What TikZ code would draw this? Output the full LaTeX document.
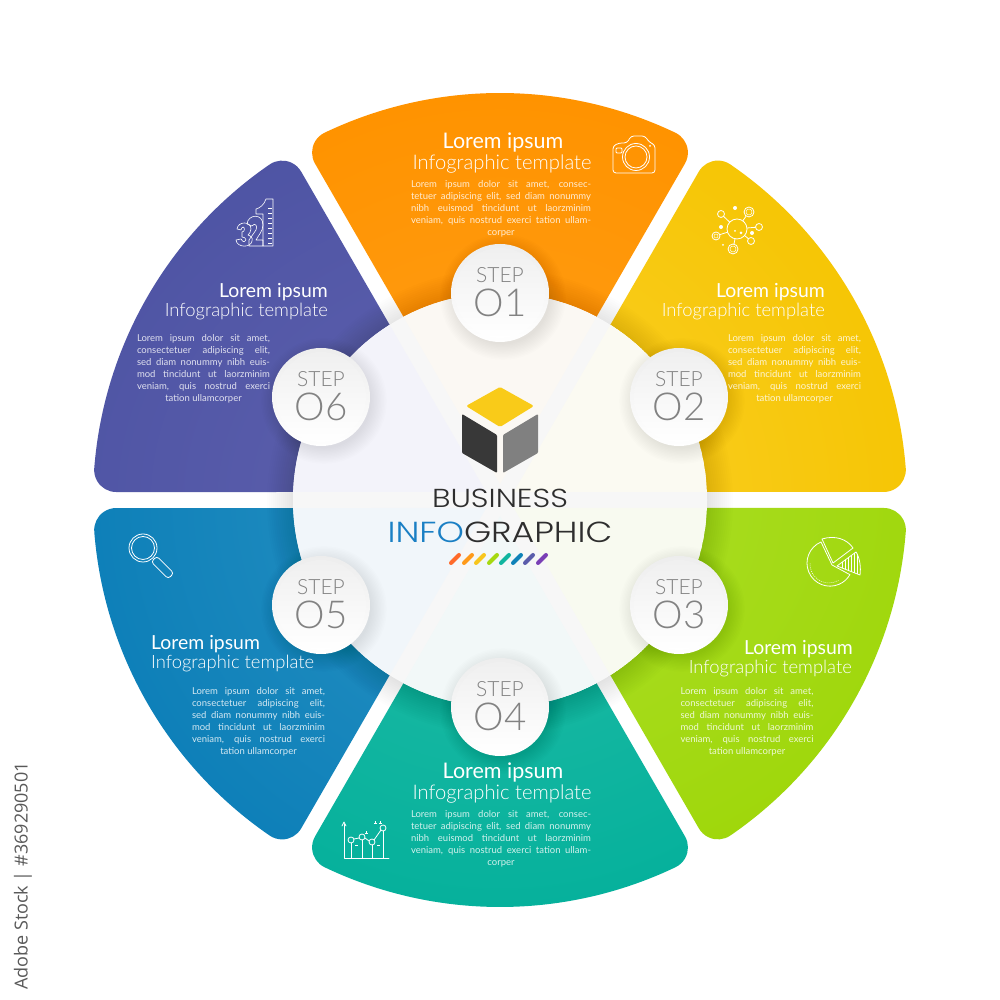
\documentclass[tikz,border=0pt]{standalone}
\usepackage{graphicx}
\usepackage{fontspec}
\setmainfont{Lato}
\newfontfamily\latolight{Lato Light}
\newfontfamily\poplight{Poppins Light}
\newfontfamily\opensans{Open Sans}
\definecolor{or1}{HTML}{FF9F1A}\definecolor{or2}{HTML}{FF9300}
\definecolor{ye1}{HTML}{FBD02A}\definecolor{ye2}{HTML}{F5C400}
\definecolor{gr1}{HTML}{ADDF2C}\definecolor{gr2}{HTML}{9FD70A}
\definecolor{te1}{HTML}{24BCA6}\definecolor{te2}{HTML}{06B19C}
\definecolor{bl1}{HTML}{2A93C3}\definecolor{bl2}{HTML}{0A7DB7}
\definecolor{in1}{HTML}{6062AF}\definecolor{in2}{HTML}{4E54A4}
\definecolor{stepgray}{HTML}{828282}
\definecolor{ti1}{HTML}{FBF8F3}\definecolor{ti2}{HTML}{FBFAF2}
\definecolor{ti3}{HTML}{F8FAF0}\definecolor{ti4}{HTML}{F2F8F8}
\definecolor{ti5}{HTML}{F1F6FA}\definecolor{ti6}{HTML}{F3F3FA}
\def\wedgepath{(16,0) -- (336.4,185) arc[start angle=120,end angle=25.531,radius=22] arc[start angle=25.531,end angle=-25.531,radius=407] arc[start angle=-25.531,end angle=-120,radius=22] -- cycle}
\newcommand\sector[3]{\begin{scope}[shift={(500,500)},rotate=#1]\clip \wedgepath;\shade[inner color=#2,outer color=#3] (0,0) circle[radius=408];\end{scope}}
\newcommand\tint[2]{\begin{scope}[shift={(500,500)},rotate=#1]\fill[#2] \wedgepath;\end{scope}}
\newlength\jlw
\newcommand\jl[1]{\hbox to \jlw{#1}}
\newcommand\bodyblock[5]{\global\jlw=#4pt\relax\node[bodytext,anchor=north] (#1) at (#2,#3) {#5};}
\newcommand\stepbadge[4]{%
  \foreach \i in {1,...,12}{\fill[black,opacity=.008] (#2+3,#3+4) circle[radius=46+\i*1.4];}
  \shade[top color=black!7,bottom color=white] (#2,#3) circle[radius=49];
  \shade[top color=black!6,bottom color=white] (#2,#3) circle[radius=45];
  \node[steplabel] (#1s) at (#2,#3-10) {STEP};
  \node[stepnum] (#1n) at (#2,#3+24) {#4};}
\tikzset{
  px/.style={x=1pt,y=-1pt,shift={(0,-1000)}},
  ttl/.style={text=white,font=\fontsize{21.5}{22}\selectfont,inner sep=0pt},
  sub/.style={text=white,font=\latolight\fontsize{20.2}{22}\selectfont,inner sep=0pt},
  sidettl/.style={text=white,font=\fontsize{19.4}{22}\selectfont,inner sep=0pt},
  sidesub/.style={text=white,font=\latolight\fontsize{18.4}{22}\selectfont,inner sep=0pt},
  bodytext/.style={text=white,text opacity=.82,font=\fontsize{9.5}{12}\selectfont,align=center,inner sep=0pt},
  steplabel/.style={text=stepgray,font=\latolight\fontsize{21}{21}\selectfont,inner sep=0pt,anchor=base},
  stepnum/.style={text=stepgray,font=\latolight\fontsize{38.5}{41}\selectfont,inner sep=0pt,anchor=base},
  icon/.style={draw=white,line width=.8pt,line join=round,line cap=round},
}
\begin{document}
\begin{tikzpicture}[x=1pt,y=1pt]
\useasboundingbox (0,0) rectangle (1000,1000);
\fill[white] (0,0) rectangle (1000,1000);
\sector{90}{or1}{or2}
\sector{30}{ye1}{ye2}
\sector{-30}{gr1}{gr2}
\sector{-90}{te1}{te2}
\sector{-150}{bl1}{bl2}
\sector{150}{in1}{in2}
% central disc and its shadow
\foreach \i in {1,...,14}{\fill[black,opacity=.009] (500,498) circle[radius=205+\i*2];}
\begin{scope}
\clip (500,500) circle[radius=207];
\fill[white!97!black] (500,500) circle[radius=207];
\tint{90}{ti1}
\tint{30}{ti2}
\tint{-30}{ti3}
\tint{-90}{ti4}
\tint{-150}{ti5}
\tint{150}{ti6}
\end{scope}
\begin{scope}[px]
\stepbadge{a}{500}{293}{O1}
\stepbadge{b}{679}{397}{O2}
\stepbadge{c}{679}{605}{O3}
\stepbadge{d}{500}{707}{O4}
\stepbadge{e}{321}{605}{O5}
\stepbadge{f}{321}{397}{O6}
% cube
\fill[rounded corners=1.5pt,fill=ye2!40!ye1] (500,387)--(534,406)--(500,427)--(466,406)--cycle;
\fill[rounded corners=1pt,fill=black!78] (462,414)--(497,435)--(497,473)--(462,453)--cycle;
\fill[rounded corners=1pt,fill=black!50] (503,435)--(538,414)--(538,453)--(503,473)--cycle;
\node[inner sep=0pt,anchor=base,text=black!82,font=\poplight\fontsize{26}{26}\selectfont] (biz) at (500,508) {\scalebox{1.19}[1]{BUSINESS}};
\node[inner sep=0pt,anchor=base,text=black!82,font=\poplight\fontsize{29}{29}\selectfont] (info) at (500,543) {\scalebox{1.2}[1]{\textcolor[HTML]{1A7FC4}{INFO}GRAPHIC}};
\foreach \x/\c in {455/FF6A2A,468/FF9A1A,480/F8C61C,493/A6D911,505/10B59F,517/0F82B8,529/5A5CAB,542/7A3FB5}{
  \definecolor{dashc}{HTML}{\c}
  \draw[dashc,line width=4pt,line cap=round] (\x-4,563) -- (\x+4,555);}
% titles
\node[ttl,anchor=base] (t1) at (503,149) {Lorem ipsum};
\node[sub,anchor=base] (u1) at (502,170) {Infographic template};
\bodyblock{b1}{501}{180}{180}{\jl{Lorem ipsum dolor sit amet, consec-}\\\jl{tetuer adipiscing elit, sed diam nonummy}\\\jl{nibh euismod tincidunt ut laorzminim}\\\jl{veniam, quis nostrud exerci tation ullam-}\\corper}
\node[sidettl,anchor=base east] (t2) at (825,298) {Lorem ipsum};
\node[sidesub,anchor=base east] (u2) at (825,317) {Infographic template};
\bodyblock{b2}{794.5}{334}{133}{\jl{Lorem ipsum dolor sit amet,}\\\jl{consectetuer adipiscing elit,}\\\jl{sed diam nonummy nibh euis-}\\\jl{mod tincidunt ut laorzminim}\\\jl{veniam, quis nostrud exerci}\\tation ullamcorper}
\node[sidettl,anchor=base east] (t3) at (853,655) {Lorem ipsum};
\node[sidesub,anchor=base east] (u3) at (852,674) {Infographic template};
\bodyblock{b3}{747}{687}{133}{\jl{Lorem ipsum dolor sit amet,}\\\jl{consectetuer adipiscing elit,}\\\jl{sed diam nonummy nibh euis-}\\\jl{mod tincidunt ut laorzminim}\\\jl{veniam, quis nostrud exerci}\\tation ullamcorper}
\node[ttl,anchor=base] (t4) at (503,779) {Lorem ipsum};
\node[sub,anchor=base] (u4) at (502,800) {Infographic template};
\bodyblock{b4}{501}{810}{180}{\jl{Lorem ipsum dolor sit amet, consec-}\\\jl{tetuer adipiscing elit, sed diam nonummy}\\\jl{nibh euismod tincidunt ut laorzminim}\\\jl{veniam, quis nostrud exerci tation ullam-}\\corper}
\node[sidettl,anchor=base west] (t5) at (151,650) {Lorem ipsum};
\node[sidesub,anchor=base west] (u5) at (151,669) {Infographic template};
\bodyblock{b5}{258.5}{687}{133}{\jl{Lorem ipsum dolor sit amet,}\\\jl{consectetuer adipiscing elit,}\\\jl{sed diam nonummy nibh euis-}\\\jl{mod tincidunt ut laorzminim}\\\jl{veniam, quis nostrud exerci}\\tation ullamcorper}
\node[sidettl,anchor=base east] (t6) at (328,298) {Lorem ipsum};
\node[sidesub,anchor=base east] (u6) at (328,317) {Infographic template};
\bodyblock{b6}{203.5}{334}{133}{\jl{Lorem ipsum dolor sit amet,}\\\jl{consectetuer adipiscing elit,}\\\jl{sed diam nonummy nibh euis-}\\\jl{mod tincidunt ut laorzminim}\\\jl{veniam, quis nostrud exerci}\\tation ullamcorper}
% camera
\draw[icon,rounded corners=3pt] (613,146)--(619,143)--(627,143)--(631,136)--(645,136)--(649,142)--(655,145)--(655,173)--(613,173)--cycle;
\draw[icon] (636,157) circle[radius=13.5] circle[radius=11];
\draw[icon,rounded corners=1pt] (616,148) rectangle (622,153);
\fill[white] (650,146) circle[radius=1];
% molecule
\draw[icon] (737,229) circle[radius=10];
\foreach \x/\y/\r in {721/214/3.5,749/212/5,759/227/3.5,751/241/3.5,733/249/5,716/236/4}{
  \draw[icon] (\x,\y) circle[radius=\r];}
\draw[icon,line width=.5pt] (749,212) circle[radius=3] (733,249) circle[radius=3] (716,236) circle[radius=2];
\draw[icon] (729.7,222.2)--(723.6,216.4) (742.8,220.8)--(746.1,216.1) (747,228)--(755.5,227.3) (744.6,235.5)--(748.3,238.7) (735,238.8)--(734,244) (727.5,232.2)--(719.8,234.7);
\foreach \x/\y/\r in {735/208/2,721/227/2,752/233/2,723/245/1,735/231/1,741/233/1.5}{\fill[white] (\x,\y) circle[radius=\r];}
% pie
\draw[icon] (832,565)--(821,542) arc[start angle=247,end angle=30,radius=23] --cycle;
\draw[icon] (822,539) .. controls (835,535) and (847,539) .. (853,548) -- (833,563) -- cycle;
\begin{scope}
\clip (837,566)--(856,552) .. controls (860,558) and (861,568) .. (860,575) -- cycle;
\foreach \x in {842,845,...,860}{\draw[white,line width=.5pt] (\x,545)--(\x,580);}
\end{scope}
\draw[icon] (837,566)--(856,552) .. controls (860,558) and (861,568) .. (860,575) -- cycle;
\draw[white,line width=.5pt,dash pattern=on 1pt off 1pt] (829,564)+(182:19) arc[start angle=182,end angle=60,radius=19];
% chart
\draw[icon] (344,824)--(344,858)--(389,858);
\draw[icon] (342,826)--(344,822)--(346,826);
\draw[icon] (351,843)--(351,858) (362,840)--(362,858) (372,845)--(372,858) (383,831)--(383,858);
\draw[icon] (354,839)--(359,838) (365,838)--(369,841) (374,840)--(381,830);
\foreach \x/\y in {351/840,362/837,372/842,383/828}{\draw[icon] (\x,\y) circle[radius=3];}
\draw[white,line width=.5pt] (374,823)--(377,823) (375.5,821.5)--(375.5,824.5) (379,823)--(382,823) (380.5,821.5)--(380.5,824.5) (365,833)--(368,833) (366.5,831.5)--(366.5,834.5) (355,845)--(358,845) (377,845)--(380,845);
% magnifier
\draw[icon] (143,548) circle[radius=14] circle[radius=11.5];
\draw[icon,rounded corners=3pt] (156.8,556.2)--(173.8,573.2)--(168.2,578.8)--(151.2,561.8)--cycle;
% 321
\draw[icon,line width=.6pt] (273,199)--(266,199) .. controls (264,205) and (260,208) .. (256,209) -- (256,214) -- (263,214) -- (263,246) -- (273,246) -- cycle;
\draw[icon,line width=.6pt] (249,246)--(249,240)--(256,230) .. controls (258,226) and (255,222) .. (252,226) -- (247,224) .. controls (248,214) and (263,213) .. (263,225) .. controls (263,231) and (258,236) .. (256,240) -- (263,240) -- (263,246) -- cycle;
\draw[icon,line width=.6pt] (237,229) .. controls (238,221) and (251,221) .. (251,229) .. controls (251,232) and (249,234) .. (248,235) .. controls (251,236) and (253,238) .. (252,241) .. controls (251,248) and (237,248) .. (236,240) -- (241,239) .. controls (243,243) and (246,242) .. (246,240) .. controls (246,238) and (244,237) .. (242,237) -- (242,232) .. controls (245,232) and (245,227) .. (243,227) .. controls (242,227) and (241,229) .. (241,230) -- cycle;
\foreach \y in {208,213,...,243}{\draw[white,line width=.4pt] (268,\y)--(272,\y);}
% credit line in the margin
\node[rotate=90,anchor=east,inner sep=0pt,text=black!65,font=\opensans\fontsize{18}{18}\selectfont] (id) at (23,762) {Adobe Stock | \#369290501};
\end{scope}
\end{tikzpicture}
\end{document}
